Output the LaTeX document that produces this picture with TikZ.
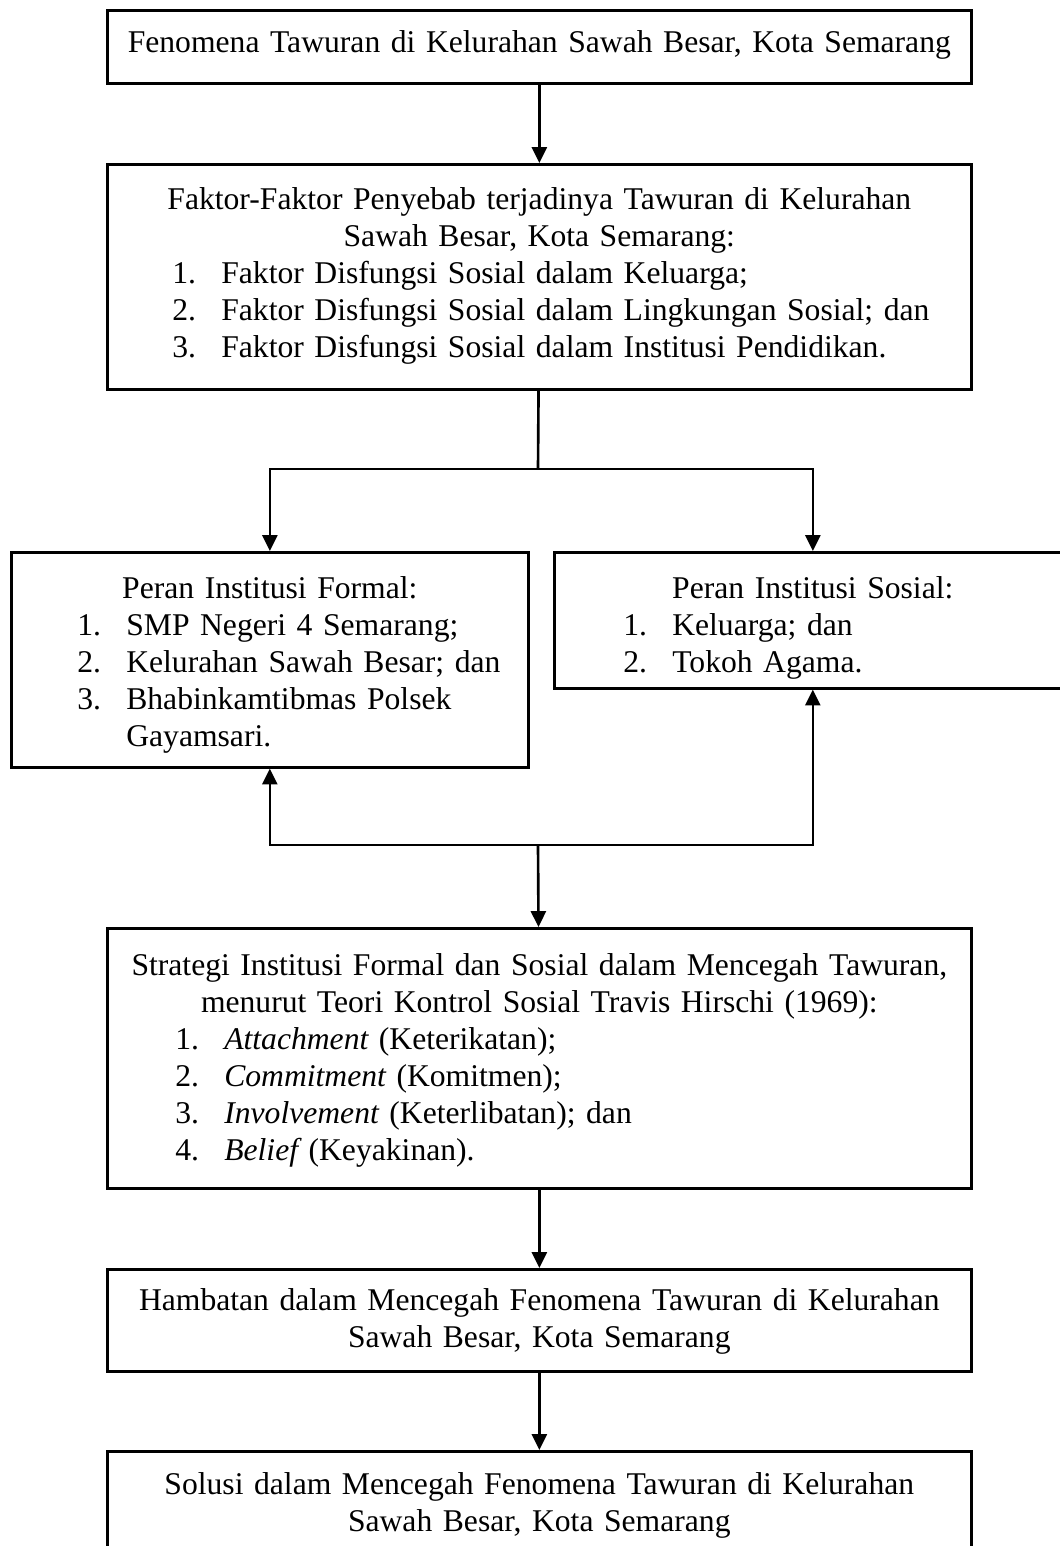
\documentclass[tikz,border=0pt]{standalone}
\usepackage{fontspec}
\setmainfont{Liberation Serif}
\usetikzlibrary{shapes,arrows.meta}
\newcommand{\li}[3]{\makebox[\linewidth][l]{\hspace*{#1}\makebox[0.98cm][l]{#2}#3}}

\begin{document}
\begin{tikzpicture}
\tikzstyle{box} = [draw, line width=1.5pt, inner sep=0pt, anchor=north west, align=center, font=\fontsize{18}{21.1}\selectfont]
\tikzstyle{line} = [line width=1.5pt]
\tikzstyle{arr} = [line width=1.5pt, -{Triangle[length=9pt,width=8.5pt]}]
\tikzstyle{arrs} = [line width=1.5pt, {Triangle[length=9pt,width=8.5pt]}-{Triangle[length=9pt,width=8.5pt]}]
\useasboundingbox (0,0) rectangle (21.18,-30.92);

\node [box, text width=17.28cm, text height=0.84cm, text depth=0.62cm] (fen) at (2.12,-0.18) {Fenomena Tawuran di Kelurahan Sawah Besar, Kota Semarang};

\node [box, text width=17.28cm, text height=0.90cm, text depth=3.60cm] (fak) at (2.12,-3.26) {Faktor-Faktor Penyebab terjadinya Tawuran di Kelurahan\\
Sawah Besar, Kota Semarang:\\
\li{1.30cm}{1.}{Faktor Disfungsi Sosial dalam Keluarga;}\\
\li{1.30cm}{2.}{Faktor Disfungsi Sosial dalam Lingkungan Sosial; dan}\\
\li{1.30cm}{3.}{Faktor Disfungsi Sosial dalam Institusi Pendidikan.}};

\node [box, text width=10.34cm, text height=0.92cm, text depth=3.38cm] (formal) at (0.20,-11.02) {Peran Institusi Formal:\\
\li{1.32cm}{1.}{SMP Negeri 4 Semarang;}\\
\li{1.32cm}{2.}{Kelurahan Sawah Besar; dan}\\
\li{1.32cm}{3.}{Bhabinkamtibmas Polsek}\\
\li{1.32cm}{}{Gayamsari.}};

\node [box, text width=10.34cm, text height=0.92cm, text depth=1.80cm] (sosial) at (11.06,-11.02) {Peran Institusi Sosial:\\
\li{1.38cm}{1.}{Keluarga; dan}\\
\li{1.38cm}{2.}{Tokoh Agama.}};

\node [box, text width=17.28cm, text height=0.94cm, text depth=4.26cm] (strat) at (2.12,-18.54) {Strategi Institusi Formal dan Sosial dalam Mencegah Tawuran,\\
menurut Teori Kontrol Sosial Travis Hirschi (1969):\\
\li{1.36cm}{1.}{{\itshape Attachment} (Keterikatan);}\\
\li{1.36cm}{2.}{{\itshape Commitment} (Komitmen);}\\
\li{1.36cm}{3.}{{\itshape Involvement} (Keterlibatan); dan}\\
\li{1.36cm}{4.}{{\itshape Belief} (Keyakinan).}};

\node [box, text width=17.28cm, text height=0.82cm, text depth=1.22cm] (hamb) at (2.12,-25.36) {Hambatan dalam Mencegah Fenomena Tawuran di Kelurahan\\
Sawah Besar, Kota Semarang};

\node [box, text width=17.28cm, text height=0.86cm, text depth=1.60cm] (sol) at (2.12,-29.00) {Solusi dalam Mencegah Fenomena Tawuran di Kelurahan\\
Sawah Besar, Kota Semarang};

% forks
\coordinate (fk) at (10.76,-9.38);
\coordinate (fl) at (formal.north |- fk);
\coordinate (fr) at (sosial.north |- fk);
\coordinate (bk) at (10.76,-16.90);
\coordinate (bl) at (formal.south |- bk);
\coordinate (br) at (sosial.south |- bk);

\draw [arr] (fen) -- (fak);
\draw [line] (fak) -- (fk);
\draw [arrs] (formal.north) -- (fl) -- (fr) -- (sosial.north);
\draw [arrs] (formal.south) -- (bl) -- (br) -- (sosial.south);
\draw [arr] (bk) -- (strat);
\draw [arr] (strat) -- (hamb);
\draw [arr] (hamb) -- (sol);
\end{tikzpicture}
\end{document}
